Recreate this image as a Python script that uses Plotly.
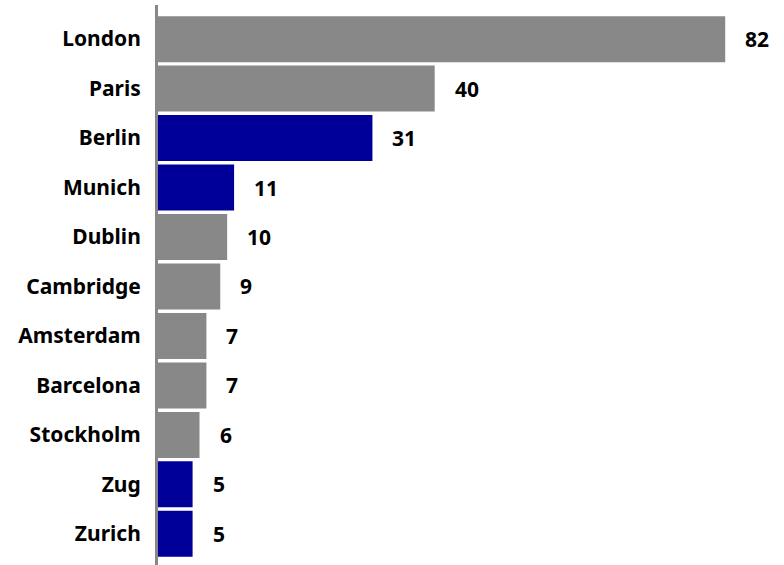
import plotly.graph_objects as go

# Cities ranked by count, top to bottom
cities = ["London", "Paris", "Berlin", "Munich", "Dublin", "Cambridge",
          "Amsterdam", "Barcelona", "Stockholm", "Zug", "Zurich"]
counts = [82, 40, 31, 11, 10, 9, 7, 7, 6, 5, 5]
# Cities in the DACH region are highlighted
highlight = ["Berlin", "Munich", "Zug", "Zurich"]

GREY = "#888888"
BLUE = "#000099"
FONT = "Noto Sans"
SIZE = 21

colors = [BLUE if c in highlight else GREY for c in cities]

fig = go.Figure(
    go.Bar(
        x=counts,
        y=cities,
        orientation="h",
        marker=dict(color=colors, line=dict(width=0)),
        hoverinfo="x+y",
    )
)

for c, v in zip(cities, counts):
    fig.add_annotation(
        x=v, y=c, text=f"<b>{v}</b>", showarrow=False,
        xanchor="left", yanchor="middle", xshift=18,
        font=dict(family=FONT, size=SIZE, color="black"),
    )

fig.update_layout(
    width=784,
    height=565,
    margin=dict(l=158, r=0, t=5, b=0),
    paper_bgcolor="white",
    plot_bgcolor="white",
    bargap=0.07,
    showlegend=False,
    font=dict(family=FONT, size=SIZE, color="black"),
    xaxis=dict(
        range=[0, 90.5],
        visible=False,
        showgrid=False,
        zeroline=False,
    ),
    yaxis=dict(
        range=[10.63, -0.69],
        showgrid=False,
        zeroline=False,
        showline=True,
        linecolor=GREY,
        linewidth=3,
        ticks="",
        ticklabelstandoff=10,
        tickfont=dict(family=FONT, size=SIZE, color="black", weight="bold"),
    ),
)

fig.write_html("out.html")
